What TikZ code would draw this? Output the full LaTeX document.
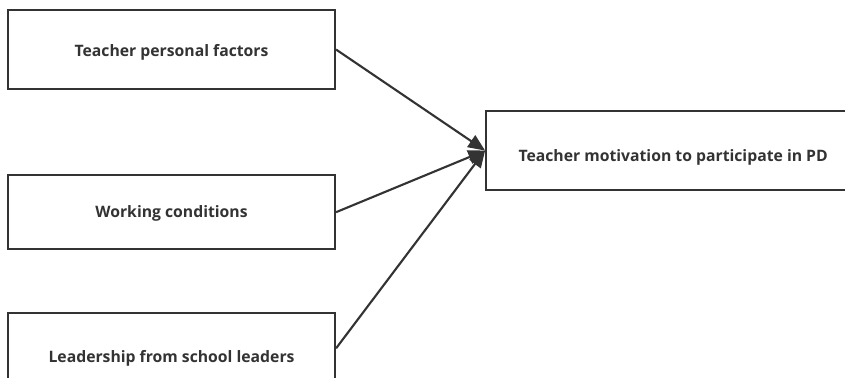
\documentclass[tikz,border=0pt]{standalone}
\usepackage{fontspec}
\setmainfont{Open Sans}
\usetikzlibrary{positioning, arrows.meta}

\definecolor{ink}{HTML}{333333}
% move a label down inside its box, keeping the box size
\newcommand{\sinklabel}[2]{\raisebox{-#1}[\height][\depth]{#2}}

\tikzset{
	factor/.style={draw=ink, line width=1.5pt, rectangle, text=ink, font=\bfseries\fontsize{11.2}{13}\selectfont,
		minimum width=8.175cm, minimum height=1.975cm, inner sep=0pt},
	link/.style={draw=ink, line width=1.5pt, -{Triangle[length=12pt,width=10pt]}}
}

\begin{document}
\begin{tikzpicture}[node distance=2.1cm and 3.725cm]
	\path[use as bounding box, clip] (0,0) rectangle (21.125,-9.425);
	\fill[white] (0,0) rectangle (21.125,-9.425);
	\node[factor, anchor=north west] (pers) at (0.175,-0.225) {\sinklabel{2pt}{Teacher personal factors}};
	\node[factor, below=2.1cm of pers.south, anchor=north, minimum height=1.85cm] (work) {\sinklabel{1pt}{Working conditions}};
	\node[factor, below=1.55cm of work.south, anchor=north, minimum height=2.2cm] (lead) {\sinklabel{1pt}{Leadership from school leaders}};
	\node[factor, minimum width=9.35cm, anchor=west] (motiv) at ([xshift=3.725cm, yshift=-2.525cm]pers.east) {\sinklabel{5pt}{Teacher motivation to participate in PD}};
	%arrows into the outcome
	\draw[link] (pers.east) -- (motiv.west);
	\draw[link] (work.east) -- (motiv.west);
	\draw[link] ([yshift=0.225cm]lead.east) -- (motiv.west);
\end{tikzpicture}
\end{document}
